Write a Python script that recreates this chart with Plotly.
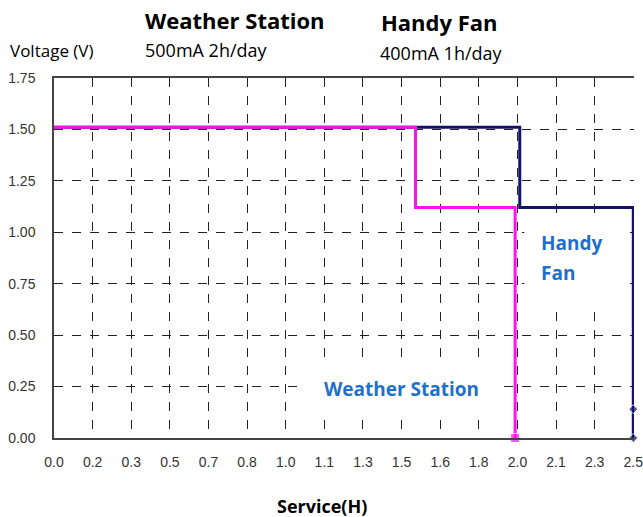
import plotly.graph_objects as go

# Data
x_ticks = [i * 2.5 / 15 for i in range(16)]
x_tick_labels = ["0.0", "0.2", "0.3", "0.5", "0.7", "0.8", "1.0", "1.1", "1.3",
                 "1.5", "1.6", "1.8", "2.0", "2.1", "2.3", "2.5"]
y_ticks = [0, 0.25, 0.5, 0.75, 1.0, 1.25, 1.5, 1.75]

ws_x = [0, 1.56, 1.56, 1.99, 1.99]
ws_y = [1.51, 1.51, 1.12, 1.12, 0.0]

fan_x = [0, 2.01, 2.01, 2.5, 2.5, 2.5]
fan_y = [1.51, 1.51, 1.12, 1.12, 0.14, 0.0]

NAVY = "#12126b"
MAGENTA = "#ff10f0"
BLUE = "#1f6fcc"

fig = go.Figure()
fig.add_trace(go.Scatter(
    x=fan_x, y=fan_y, mode="lines+markers",
    line=dict(color=NAVY, width=3),
    marker=dict(symbol="diamond", size=[0, 0, 0, 0, 7, 7], color=NAVY),
    showlegend=False, cliponaxis=False))
fig.add_trace(go.Scatter(
    x=ws_x, y=ws_y, mode="lines+markers",
    line=dict(color=MAGENTA, width=3),
    marker=dict(symbol="square", size=[0, 0, 0, 0, 9], color=MAGENTA),
    showlegend=False, cliponaxis=False))

# white label backgrounds (cover grid, below traces)
fig.add_shape(type="rect", x0=2.03, x1=2.448, y0=0.637, y1=1.094, xref="x", yref="y",
              fillcolor="white", line=dict(width=0), layer="between")
fig.add_shape(type="rect", x0=1.082, x1=1.922, y0=0.102, y1=0.355, xref="x", yref="y",
              fillcolor="white", line=dict(width=0), layer="between")

title_font = dict(family="Open Sans", size=22, color="black")
sub_font = dict(family="Open Sans", size=18, color="black")

ann = []
ann.append(dict(text="<b>Weather Station</b>", x=143, y=20, font=title_font))
ann.append(dict(text="500mA 2h/day", x=143, y=50, font=sub_font))
ann.append(dict(text="<b>Handy Fan</b>", x=379, y=22, font=title_font))
ann.append(dict(text="400mA 1h/day", x=378, y=53, font=sub_font))
ann.append(dict(text="Voltage (V)", x=8, y=50, font=dict(family="Open Sans", size=17, color="black")))
W, H = 643, 517
L, R, T, B = 54, 9, 78, 79
pw, ph = W - L - R, H - T - B
for a in ann:
    fig.add_annotation(text=a["text"], x=(a["x"] - L) / pw, y=(H - B - a["y"]) / ph,
                       xref="paper", yref="paper", showarrow=False,
                       xanchor="left", yanchor="middle", font=a["font"])
fig.add_annotation(text="<b>Service(H)</b>", x=(322 - L) / pw, y=(H - B - 506) / ph,
                   xref="paper", yref="paper", showarrow=False, xanchor="center",
                   yanchor="middle", font=dict(family="Open Sans", size=18, color="black"))

lab_font = dict(family="Open Sans", size=19, color=BLUE)
fig.add_annotation(text="<b>Handy</b>", x=2.095, y=(438 - 243) / 360 * 1.75, xref="x", yref="y",
                   showarrow=False, xanchor="left", yanchor="middle", font=lab_font)
fig.add_annotation(text="<b>Fan</b>", x=2.095, y=(438 - 273) / 360 * 1.75, xref="x", yref="y",
                   showarrow=False, xanchor="left", yanchor="middle", font=lab_font)
fig.add_annotation(text="<b>Weather Station</b>", x=1.5, y=0.24, xref="x", yref="y",
                   showarrow=False, xanchor="center", yanchor="middle", font=lab_font)

tick_font = dict(family="Liberation Sans", size=14, color="#333")
fig.update_layout(
    width=W, height=H,
    margin=dict(l=L, r=R, t=T, b=B, autoexpand=False),
    paper_bgcolor="white", plot_bgcolor="white",
    xaxis=dict(range=[0, 2.503], tickvals=x_ticks, ticktext=x_tick_labels,
               showgrid=True, gridcolor="#222", griddash="dash", gridwidth=1,
               showline=True, linecolor="#444", linewidth=1.5, mirror=True,
               zeroline=False, ticks="", ticklabelstandoff=10, tickfont=tick_font,
               ticklabeloverflow="allow", automargin=False),
    yaxis=dict(range=[0, 1.75], tickvals=y_ticks, tickformat=".2f",
               showgrid=True, gridcolor="#222", griddash="dash", gridwidth=1,
               showline=True, linecolor="#444", linewidth=1.5,
               zeroline=False, ticks="", ticklabelstandoff=14, tickfont=tick_font,
               automargin=False),
)

fig.write_html("out.html", config={"displayModeBar": False},
               post_script="document.body.style.margin='0px';")
